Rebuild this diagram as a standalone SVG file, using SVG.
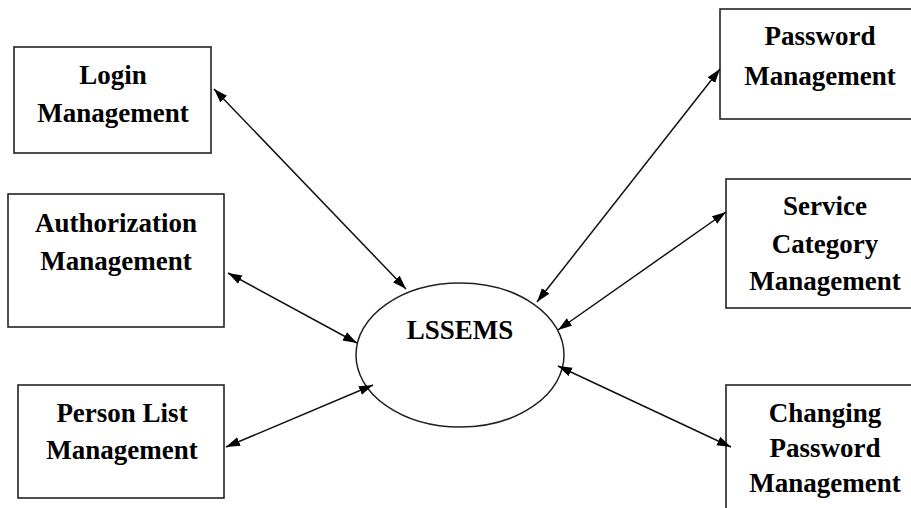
<svg xmlns="http://www.w3.org/2000/svg" width="911" height="508" viewBox="0 0 911 508">
<style>
.box{fill:#fff;stroke:#222;stroke-width:1.6}
.t{font-family:"Liberation Serif","Times New Roman",serif;font-weight:bold;font-size:27px;fill:#000;text-anchor:middle}
.c{stroke:#111;stroke-width:1.5;fill:none;marker-start:url(#ah);marker-end:url(#ah)}
</style>
<defs>
<marker id="ah" viewBox="0 0 12 8" refX="12" refY="4" markerWidth="14" markerHeight="10" markerUnits="userSpaceOnUse" orient="auto-start-reverse">
<path d="M0,0 L12,4 L0,8 z" fill="#000"/>
</marker>
</defs>
<rect width="911" height="508" fill="#fff"/>
<g id="login">
<rect class="box" x="14" y="47" width="197" height="106"/>
<text class="t" x="113" y="84">Login</text>
<text class="t" x="113" y="122">Management</text>
</g>
<g id="authorization">
<rect class="box" x="8" y="194" width="216" height="133"/>
<text class="t" x="116" y="232">Authorization</text>
<text class="t" x="116" y="270">Management</text>
</g>
<g id="personlist">
<rect class="box" x="18" y="385" width="206" height="113"/>
<text class="t" x="122" y="422">Person List</text>
<text class="t" x="122" y="459">Management</text>
</g>
<g id="password">
<rect class="box" x="720" y="9" width="200" height="110"/>
<text class="t" x="820" y="45">Password</text>
<text class="t" x="820" y="85">Management</text>
</g>
<g id="service">
<rect class="box" x="726" y="179" width="194" height="129"/>
<text class="t" x="825" y="215">Service</text>
<text class="t" x="825" y="253">Category</text>
<text class="t" x="825" y="290">Management</text>
</g>
<g id="changing">
<rect class="box" x="726" y="385" width="194" height="140"/>
<text class="t" x="825" y="422">Changing</text>
<text class="t" x="825" y="457">Password</text>
<text class="t" x="825" y="492">Management</text>
</g>
<g id="lssems">
<ellipse cx="460" cy="355" rx="104" ry="72" fill="#fff" stroke="#222" stroke-width="1.5"/>
<text class="t" x="460" y="339">LSSEMS</text>
</g>
<g id="connectors">
<line class="c" x1="214" y1="89" x2="406" y2="289"/>
<line class="c" x1="228" y1="273" x2="357" y2="343"/>
<line class="c" x1="226" y1="447" x2="373" y2="385"/>
<line class="c" x1="720" y1="69" x2="537" y2="302"/>
<line class="c" x1="726" y1="212" x2="558" y2="330"/>
<line class="c" x1="731" y1="447" x2="558" y2="366"/>
</g>
</svg>
